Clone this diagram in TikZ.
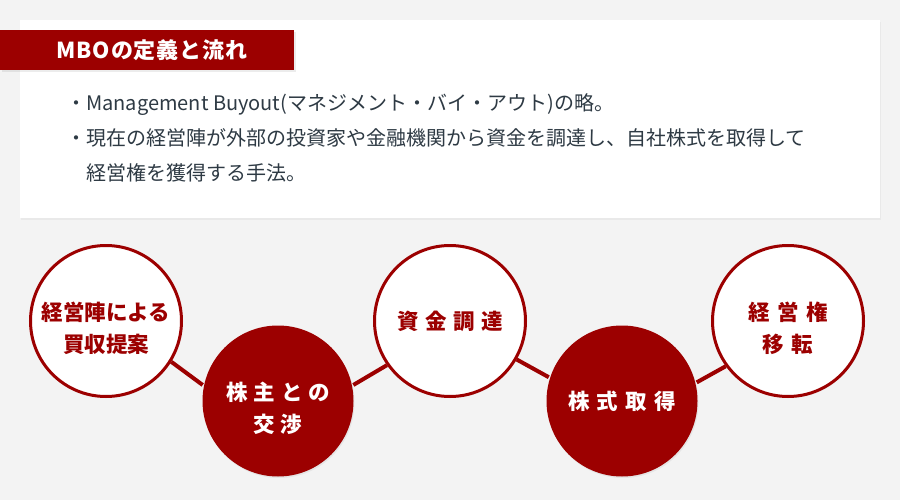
\documentclass[tikz,border=0pt]{standalone}
\usepackage{fontspec}
\setmainfont{Noto Sans CJK JP}
\usetikzlibrary{shadows}
\definecolor{mboRed}{HTML}{9C0000}
\definecolor{mboText}{HTML}{2E3A44}
\definecolor{mboBack}{HTML}{F3F3F3}
\newcommand\steplines[1]{\raisebox{-14pt}[0pt][0pt]{\begin{tabular}{@{}c@{}}#1\end{tabular}}}
\begin{document}
\begin{tikzpicture}[x=1pt, y=-1pt,
step circle/.style={circle, minimum size=151pt, inner sep=0pt, line width=3pt, align=center,
    font=\bfseries\fontsize{21.5}{32}\selectfont\addfontfeatures{LetterSpace=#1},
    drop shadow={opacity=0.12, shadow xshift=1pt, shadow yshift=-1.5pt}},
open step/.style={step circle=#1, draw=mboRed, fill=white, text=mboRed},
full step/.style={step circle=#1, fill=mboRed, text=white},
link/.style={draw=mboRed, line width=4pt}]
\fill[mboBack] (0,0) rectangle (900,500);
\useasboundingbox (0,0) rectangle (900,500);
% definition panel
\node[fill=white, minimum width=860pt, minimum height=198pt, anchor=north west, inner sep=0pt,
    drop shadow={opacity=0.08, shadow xshift=1pt, shadow yshift=-1.5pt}] (panel) at (20,20) {};
\node[fill=mboRed, minimum width=294pt, minimum height=40pt, anchor=north west, inner sep=0pt,
    drop shadow={opacity=0.15, shadow xshift=2pt, shadow yshift=-2pt}] (titlebar) at (0,30) {};
\node[text=white, font=\bfseries\fontsize{22}{24}\selectfont\addfontfeatures{LetterSpace=4}] (title) at (152,50) {MBOの定義と流れ};
\node[anchor=north west, align=left, text=mboText, inner sep=0pt, font=\fontsize{20}{35}\selectfont] (defs) at (66,93)
    {・Management Buyout(マネジメント・バイ・アウト)の略。\\
     ・現在の経営陣が外部の投資家や金融機関から資金を調達し、自社株式を取得して\\
     \hspace*{20pt}経営権を獲得する手法。};
% flow
\node[open step=0] (propose) at (106,321) {\steplines{経営陣による\\買収提案}};
\node[full step=27] (negotiate) at (278,401) {\steplines{株主との\\交渉}};
\node[open step=31] (funding) at (450,321) {資金調達};
\node[full step=33] (acquire) at (622,401) {株式取得};
\node[open step=36] (transfer) at (788,321) {\steplines{経営権\\移転}};
\draw[link] (propose.-32) -- (negotiate.168);
\draw[link] (negotiate.12) -- (funding.-145);
\draw[link] (funding.-30) -- (acquire.162);
\draw[link] (acquire.14) -- (transfer.-144);
\end{tikzpicture}
\end{document}
